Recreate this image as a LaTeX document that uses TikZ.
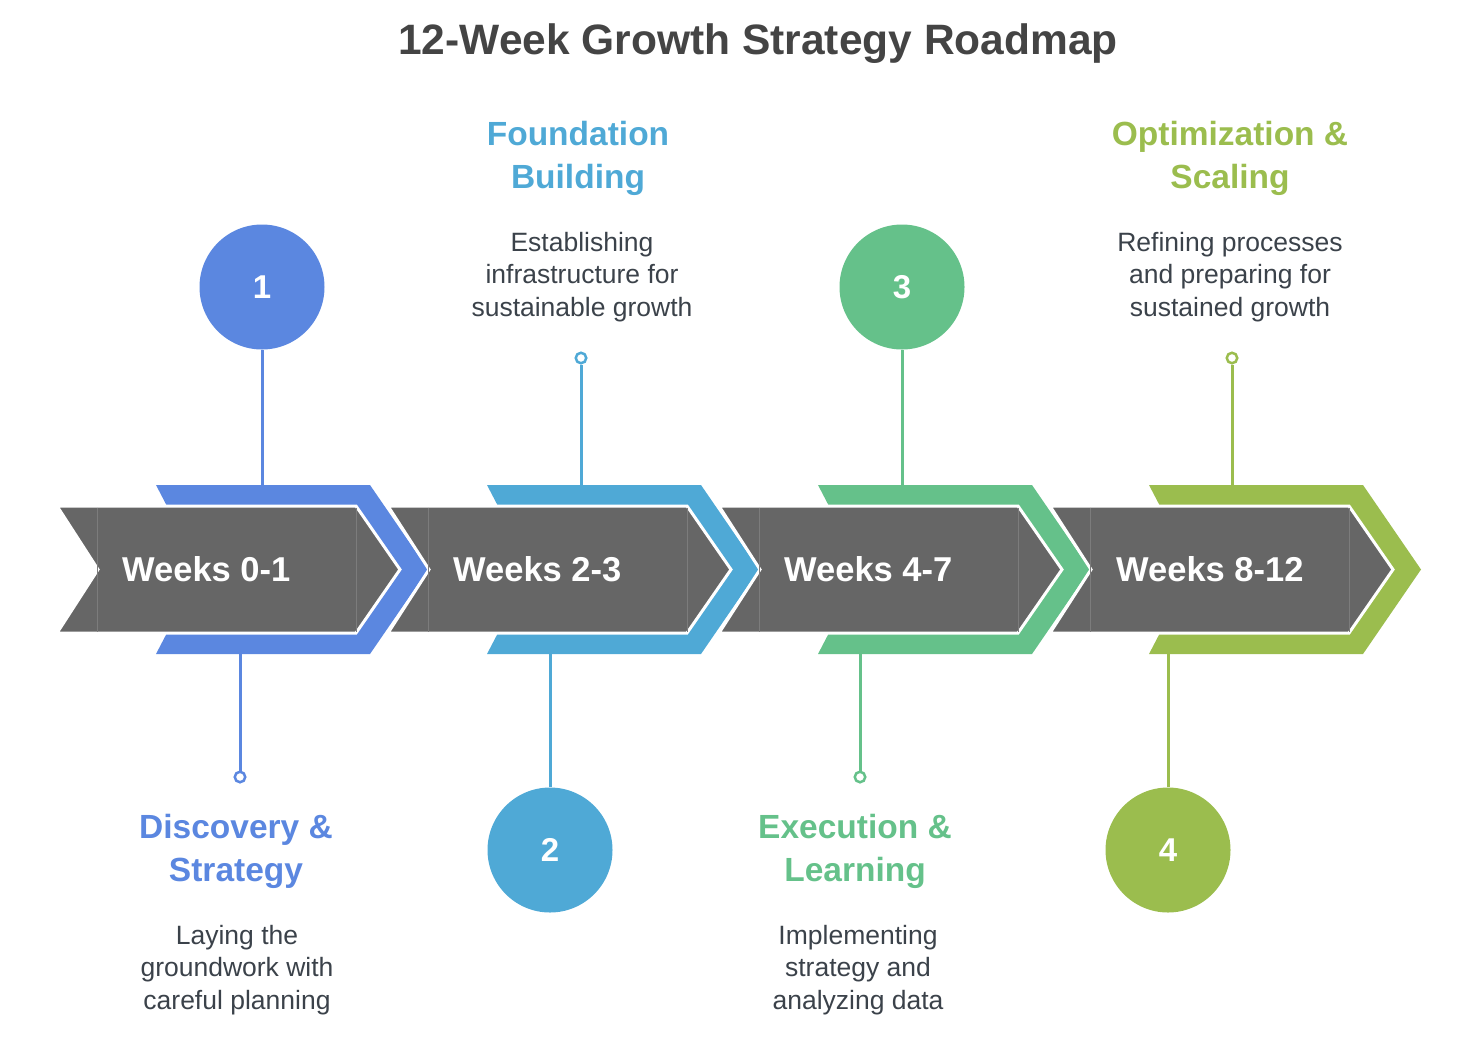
\documentclass[tikz,border=0pt]{standalone}
\usepackage{fontspec}
\setmainfont{Liberation Sans}
\usetikzlibrary{positioning}
\definecolor{cone}{HTML}{5B87E0}
\definecolor{ctwo}{HTML}{4FA9D6}
\definecolor{cthree}{HTML}{65C18A}
\definecolor{cfour}{HTML}{9BBD4E}
\definecolor{bargray}{HTML}{666666}
\definecolor{seamgray}{HTML}{7C7C7C}
\definecolor{titlegray}{HTML}{444444}
\definecolor{desctext}{HTML}{3B424A}
\tikzstyle{numdot}=[circle,inner sep=0pt,minimum size=125pt,
                    text=white,font=\bfseries\fontsize{33}{38}\selectfont]
\tikzstyle{enddot}=[circle,draw,fill=white,line width=2.5pt,
                    inner sep=0pt,minimum size=10.5pt]
\tikzstyle{head}=[align=center,font=\bfseries\fontsize{33.5}{43}\selectfont]
\tikzstyle{desc}=[align=center,text=desctext,
                  font=\fontsize{26.5}{32.5}\selectfont]
\tikzstyle{weeks}=[anchor=base west,text=white,inner sep=0pt,
                   font=\bfseries\fontsize{34.5}{38}\selectfont]
\tikzstyle{link}=[line width=3pt]
\begin{document}
\begin{tikzpicture}[x=1pt,y=-1pt]
    \useasboundingbox (0,0) rectangle (1474,1050);
    % title
    \node (title) at (758,54) [anchor=base,text=titlegray,
        font=\bfseries\fontsize{42.5}{50}\selectfont]
        {12-Week Growth Strategy Roadmap};
    % chevrons and bar
    \foreach \c [count=\i from 0] in {cone,ctwo,cthree,cfour}{
      \begin{scope}[xshift={\i*331pt}]
        \fill[\c] (156,485) -- (370,485) -- (428,569.5) -- (370,654)
                  -- (156,654) -- (200,569.5) -- cycle;
        \draw[white,line width=3pt,fill=bargray] (57,506) -- (356,506)
                  -- (400,569.5) -- (356,633) -- (57,633) -- (98,569.5) -- cycle;
        \draw[seamgray,line width=0.8pt] (97,507.5) -- (97,631.5)
                  (356,507.5) -- (356,631.5);
      \end{scope}
    }
    \node (w1) at (122,581) [weeks] {Weeks 0-1};
    \node (w2) at (453,581) [weeks] {Weeks 2-3};
    \node (w3) at (784,581) [weeks] {Weeks 4-7};
    \node (w4) at (1116,581) [weeks] {Weeks 8-12};
    % anchors on the chevrons
    \coordinate (t1) at (262,485);
    \coordinate (b1) at (240,654);
    \coordinate (t2) at (581,485);
    \coordinate (b2) at (550,654);
    \coordinate (t3) at (902,485);
    \coordinate (b3) at (860,654);
    \coordinate (t4) at (1232,485);
    \coordinate (b4) at (1168,654);
    % numbered circles
    \node (n1) at (262,287) [numdot,fill=cone] {1};
    \node (n2) at (550,850) [numdot,fill=ctwo] {2};
    \node (n3) at (902,287) [numdot,fill=cthree] {3};
    \node (n4) at (1168,850) [numdot,fill=cfour] {4};
    % end dots
    \node (p1) at (240,777) [enddot,draw=cone] {};
    \node (p2) at (581,358) [enddot,draw=ctwo] {};
    \node (p3) at (860,777) [enddot,draw=cthree] {};
    \node (p4) at (1232,358) [enddot,draw=cfour] {};
    \draw[link,cone] (n1) -- (t1) (p1) -- (b1);
    \draw[link,ctwo] (p2) -- (t2) (n2) -- (b2);
    \draw[link,cthree] (n3) -- (t3) (p3) -- (b3);
    \draw[link,cfour] (p4) -- (t4) (n4) -- (b4);
    % headings
    \node (h1) at (236,851) [head,text=cone] {Discovery \&\\Strategy};
    \node (h2) at (578,158) [head,text=ctwo] {Foundation\\Building};
    \node (h3) at (855,851) [head,text=cthree] {Execution \&\\Learning};
    \node (h4) at (1230,158) [head,text=cfour] {Optimization \&\\Scaling};
    % descriptions
    \node (d1) at (237,970) [desc] {Laying the\\groundwork with\\careful planning};
    \node (d2) at (582,277) [desc] {Establishing\\infrastructure for\\sustainable growth};
    \node (d3) at (858,970) [desc] {Implementing\\strategy and\\analyzing data};
    \node (d4) at (1230,277) [desc] {Refining processes\\and preparing for\\sustained growth};
\end{tikzpicture}
\end{document}
